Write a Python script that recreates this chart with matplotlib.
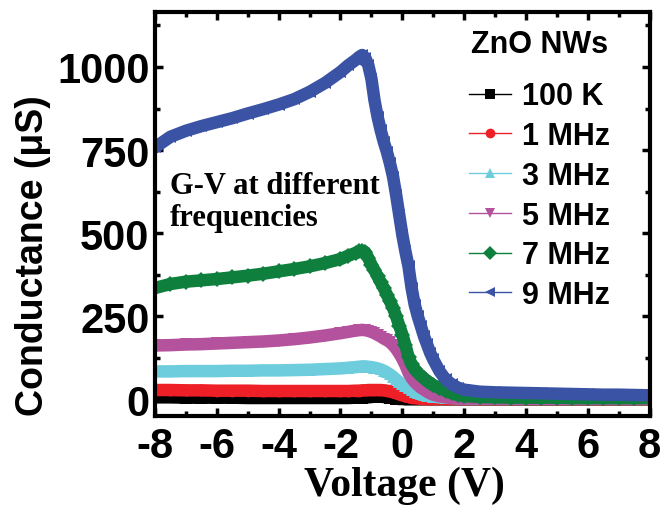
import matplotlib
matplotlib.use("Agg")
import matplotlib.pyplot as plt
from matplotlib.lines import Line2D
from matplotlib.ticker import MultipleLocator

plt.rcParams["axes.unicode_minus"] = False

# voltage points (V)
voltage = [-8, -7.5, -7, -6.5, -6, -5.5, -5, -4.5, -4, -3.5, -3, -2.5, -2, -1.75, -1.5,
           -1.4, -1.3, -1.2, -1.1, -1.0, -0.9, -0.8, -0.7, -0.6, -0.5, -0.4, -0.3, -0.2, -0.1,
           0.0, 0.1, 0.2, 0.3, 0.4, 0.5, 0.6, 0.7, 0.8, 0.9, 1.0, 1.2, 1.4, 1.6, 1.8, 2.0,
           2.5, 3, 3.5, 4, 4.5, 5, 5.5, 6, 6.5, 7, 7.5, 8]

# conductance (uS) for each frequency
g_100k = [6, 6, 5, 5, 5, 5, 4, 4, 4, 4, 4, 4, 4, 4, 5,
          5, 5, 6, 6, 7, 8, 8, 8, 7, 6, 5, 3, 2, 1,
          1, 0, 0, 0, 0, 0, 0, 0, 0, 0, 0, 0, 0, 0, 0, 0,
          0, 0, 0, 0, 0, 0, 0, 0, 0, 0, 0, 0]
g_1m = [28, 28, 27, 27, 26, 26, 26, 25, 25, 25, 25, 25, 25, 25, 26,
        26, 27, 27, 28, 28, 28, 28, 28, 27, 26, 24, 21, 18, 15,
        12, 9, 7, 5, 4, 3, 2, 2, 1, 1, 1, 1, 1, 1, 1, 1,
        1, 1, 1, 1, 1, 1, 1, 1, 1, 1, 1, 1]
g_3m = [84, 84, 85, 85, 85, 86, 86, 87, 87, 88, 89, 91, 93, 95, 97,
        98, 99, 99, 98, 97, 95, 93, 90, 86, 81, 75, 68, 60, 52,
        45, 39, 33, 28, 23, 19, 16, 13, 11, 9, 8, 6, 5, 4, 3, 3,
        2, 2, 2, 2, 2, 2, 2, 2, 2, 2, 2, 2]
g_5m = [162, 163, 165, 166, 168, 170, 172, 174, 177, 181, 186, 192, 199, 203, 207,
        208, 209, 208, 206, 203, 199, 194, 189, 183, 178, 172, 163, 152, 138,
        122, 103, 80, 64, 52, 43, 35, 29, 23, 18, 14, 9, 6, 4, 3, 3,
        2, 2, 2, 2, 2, 2, 2, 2, 2, 2, 2, 2]
g_7m = [335, 347, 354, 358, 362, 367, 372, 378, 385, 392, 400, 410, 422, 432, 441,
        445, 447, 443, 425, 405, 388, 370, 352, 335, 315, 295, 275, 250, 222,
        195, 163, 128, 105, 90, 80, 71, 63, 55, 49, 43, 34, 26, 18, 13, 10,
        7, 6, 5, 5, 5, 5, 4, 4, 4, 4, 4, 4]
g_9m = [758, 790, 808, 822, 834, 846, 860, 873, 887, 903, 925, 952, 985, 1005, 1022,
        1030, 1036, 1028, 1005, 965, 900, 850, 810, 775, 745, 710, 670, 615, 555,
        495, 445, 400, 335, 285, 250, 220, 190, 165, 140, 120, 85, 60, 45, 35, 29,
        23, 21, 20, 19, 18, 17, 16, 15, 14, 14, 13, 12]

labels = ["100 K", "1 MHz", "3 MHz", "5 MHz", "7 MHz", "9 MHz"]
series = [g_100k, g_1m, g_3m, g_5m, g_7m, g_9m]
colors = ["#000000", "#EE1F26", "#6DCDDC", "#B4529E", "#0F7F3D", "#3A53A4"]
markers = ["s", "o", "^", "v", "D", "<"]

sans = ["Liberation Sans Narrow", "Liberation Sans", "DejaVu Sans"]
serif = ["Liberation Serif", "DejaVu Serif"]

fig = plt.figure(figsize=(6.65, 5.06), dpi=100)
ax = fig.add_axes([0.233, 0.176, 0.744, 0.798])

for g, c, m in zip(series, colors, markers):
    ax.plot(voltage, g, color=c, lw=9, solid_joinstyle="round", solid_capstyle="round",
            marker=m, ms=8.5, mew=0, zorder=2)

ax.set_xlim(-8, 8)
ax.set_ylim(-50, 1165)
ax.xaxis.set_major_locator(MultipleLocator(2))
ax.xaxis.set_minor_locator(MultipleLocator(1))
ax.yaxis.set_major_locator(MultipleLocator(250))
ax.yaxis.set_minor_locator(MultipleLocator(125))
ax.tick_params(which="both", direction="in", top=True, right=True, width=2.5)
ax.tick_params(which="major", length=6)
ax.tick_params(which="minor", length=3.5)
ax.tick_params(axis="x", which="major", pad=7)
ax.tick_params(axis="y", which="major", pad=4)
for sp in ax.spines.values():
    sp.set_linewidth(3)
for lab in ax.get_xticklabels() + ax.get_yticklabels():
    lab.set_family(sans)
    lab.set_fontweight("bold")
    lab.set_fontsize(30)

ax.set_xlabel("Voltage (V)", family=serif, fontweight="bold", fontsize=30)
ax.xaxis.set_label_coords(0.505, -0.124)
ax.set_ylabel("Conductance (\u03bcS)", family=sans, fontweight="bold", fontsize=27)
ax.yaxis.set_label_coords(-0.21, 0.40)

ax.text(-7.52, 687, "G-V at different\nfrequencies", family=serif, fontweight="bold",
        fontsize=22, va="top", ha="left", linespacing=1.15)

ax.text(4.44, 1045, "ZnO NWs", family=sans, fontweight="bold", fontsize=22,
        ha="center", va="baseline")

handles = [Line2D([], [], color=c, lw=1, marker=m, ms=7, mew=0)
           for c, m in zip(colors, markers)]
ax.legend(handles, labels, loc="upper right", bbox_to_anchor=(0.92, 0.829),
          frameon=False, borderpad=0, borderaxespad=0, handlelength=1.4,
          handletextpad=0.35, labelspacing=0.32,
          prop={"family": sans, "weight": "bold", "size": 22})

fig.savefig("out.png", dpi=100)
